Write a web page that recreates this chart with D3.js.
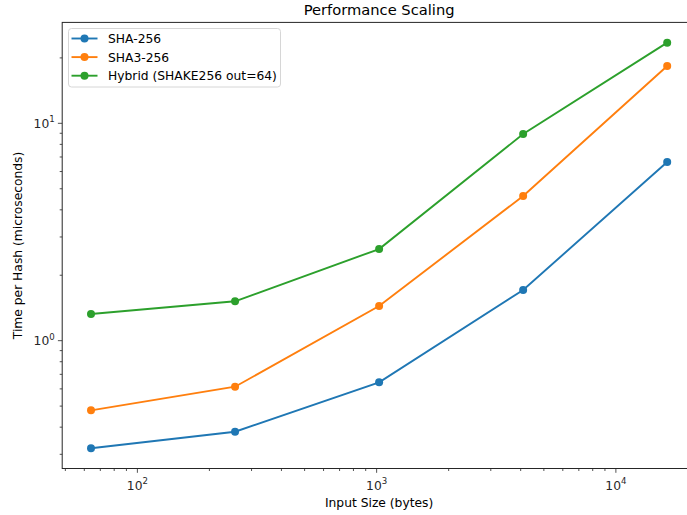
<!DOCTYPE html>
<html>
<head>
<meta charset="utf-8">
<script src="https://cdn.jsdelivr.net/npm/d3@7"></script>
<style>
  html, body { margin: 0; padding: 0; background: #fff; }
  svg { display: block; font-family: "DejaVu Sans", sans-serif; }
</style>
</head>
<body>
<svg id="chart" width="687" height="515"></svg>
<script>
// Input sizes in bytes
const inputSizes = [64, 256, 1024, 4096, 16384];

// Time per hash in microseconds
const sha256 = [0.32, 0.381, 0.643, 1.71, 6.64];
const sha3_256 = [0.478, 0.614, 1.444, 4.63, 18.35];
const hybrid = [1.327, 1.518, 2.64, 8.93, 23.5];

const seriesNames = ["SHA-256", "SHA3-256", "Hybrid (SHAKE256 out=64)"];
const seriesColors = ["#1f77b4", "#ff7f0e", "#2ca02c"];
const seriesValues = [sha256, sha3_256, hybrid];

const xMajorTicks = [100, 1000, 10000];
const yMajorTicks = [1, 10];

const svg = d3.select("#chart");
const plot = { left: 62.2, right: 696, top: 22.4, bottom: 468.5 };

// 5% padding in log space around the data
function paddedLogDomain(vals) {
  const lo = Math.log10(d3.min(vals)), hi = Math.log10(d3.max(vals));
  const m = (hi - lo) * 0.05;
  return [Math.pow(10, lo - m), Math.pow(10, hi + m)];
}

const x = d3.scaleLog().domain(paddedLogDomain(inputSizes)).range([plot.left, plot.right]);
const y = d3.scaleLog().domain(paddedLogDomain(seriesValues.flat())).range([plot.bottom, plot.top]);

// minor ticks (2..9 × 10^e) within the domain
function minorTicks(scale) {
  const [a, b] = scale.domain();
  const out = [];
  for (let e = Math.floor(Math.log10(a)); e <= Math.ceil(Math.log10(b)); e++) {
    for (let k = 2; k <= 9; k++) {
      const v = k * Math.pow(10, e);
      if (v >= a && v <= b) out.push(v);
    }
  }
  return out;
}

const axisColor = "#262626";
const tickFont = 12.3;
const supFont = 8.6;

// X axis
const xAxisG = svg.append("g").attr("transform", `translate(0,${plot.bottom})`);
xAxisG.selectAll("line.minor").data(minorTicks(x)).join("line")
  .attr("x1", d => x(d)).attr("x2", d => x(d)).attr("y1", 0).attr("y2", 2.5)
  .attr("stroke", axisColor).attr("stroke-width", 0.8);
xAxisG.selectAll("line.major").data(xMajorTicks).join("line")
  .attr("x1", d => x(d)).attr("x2", d => x(d)).attr("y1", 0).attr("y2", 4.3)
  .attr("stroke", axisColor).attr("stroke-width", 0.8);
const xLabels = xAxisG.selectAll("text.tick").data(xMajorTicks).join("text")
  .attr("x", d => x(d)).attr("y", 21)
  .attr("text-anchor", "middle").attr("font-size", tickFont).attr("fill", axisColor);
xLabels.append("tspan").text("10");
xLabels.append("tspan").attr("dy", -5.5).attr("font-size", supFont).text(d => String(Math.round(Math.log10(d))));

// Y axis
const yAxisG = svg.append("g").attr("transform", `translate(${plot.left},0)`);
yAxisG.selectAll("line.minor").data(minorTicks(y)).join("line")
  .attr("y1", d => y(d)).attr("y2", d => y(d)).attr("x1", 0).attr("x2", -2.5)
  .attr("stroke", axisColor).attr("stroke-width", 0.8);
yAxisG.selectAll("line.major").data(yMajorTicks).join("line")
  .attr("y1", d => y(d)).attr("y2", d => y(d)).attr("x1", 0).attr("x2", -4.3)
  .attr("stroke", axisColor).attr("stroke-width", 0.8);
const yLabels = yAxisG.selectAll("text.tick").data(yMajorTicks).join("text")
  .attr("x", -7.5).attr("y", d => y(d) + 4.5)
  .attr("text-anchor", "end").attr("font-size", tickFont).attr("fill", axisColor);
yLabels.append("tspan").text("10");
yLabels.append("tspan").attr("dy", -5.5).attr("font-size", supFont).text(d => String(Math.round(Math.log10(d))));

// Series lines and markers
const line = d3.line().x(d => x(d[0])).y(d => y(d[1]));
seriesValues.forEach((vals, i) => {
  const pts = inputSizes.map((s, j) => [s, vals[j]]);
  svg.append("path").datum(pts).attr("d", line)
    .attr("fill", "none").attr("stroke", seriesColors[i]).attr("stroke-width", 1.9);
  svg.append("g").selectAll("circle").data(pts).join("circle")
    .attr("cx", d => x(d[0])).attr("cy", d => y(d[1])).attr("r", 4)
    .attr("fill", seriesColors[i]);
});

// Spines
svg.append("rect")
  .attr("x", plot.left).attr("y", plot.top)
  .attr("width", plot.right - plot.left).attr("height", plot.bottom - plot.top)
  .attr("fill", "none").attr("stroke", axisColor).attr("stroke-width", 1);

// Title and axis labels
const cx = (plot.left + plot.right) / 2;
svg.append("text").attr("x", cx).attr("y", 15).attr("text-anchor", "middle")
  .attr("font-size", 14.7).attr("fill", "#000").text("Performance Scaling");
svg.append("text").attr("x", cx).attr("y", 507).attr("text-anchor", "middle")
  .attr("font-size", tickFont).attr("fill", "#000").text("Input Size (bytes)");
svg.append("text")
  .attr("transform", `translate(22,${(plot.top + plot.bottom) / 2}) rotate(-90)`)
  .attr("text-anchor", "middle").attr("font-size", tickFont).attr("fill", "#000")
  .text("Time per Hash (microseconds)");

// Legend
const lg = svg.append("g").attr("transform", "translate(68.5,28.5)");
lg.append("rect").attr("width", 212).attr("height", 58.5).attr("rx", 3)
  .attr("fill", "#fff").attr("fill-opacity", 0.8).attr("stroke", "#d6d6d6").attr("stroke-width", 1);
seriesNames.forEach((name, i) => {
  const yy = 10 + i * 18.6;
  lg.append("line").attr("x1", 3).attr("x2", 29).attr("y1", yy).attr("y2", yy)
    .attr("stroke", seriesColors[i]).attr("stroke-width", 1.9);
  lg.append("circle").attr("cx", 16).attr("cy", yy).attr("r", 4).attr("fill", seriesColors[i]);
  lg.append("text").attr("x", 39.5).attr("y", yy + 4.5).attr("font-size", tickFont)
    .attr("fill", "#000").text(name);
});
</script>
</body>
</html>
